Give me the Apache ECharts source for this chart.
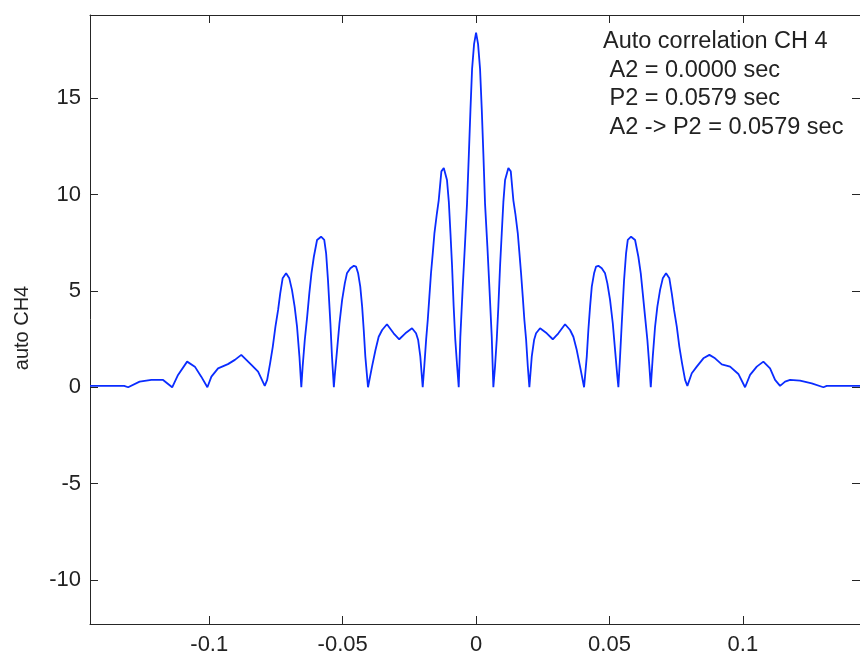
<!DOCTYPE html>
<html>
<head>
<meta charset="utf-8">
<script src="https://cdn.jsdelivr.net/npm/echarts@6/dist/echarts.min.js"></script>
<style>
html,body{margin:0;padding:0;background:#fff;}
#chart{width:860px;height:657px;}
</style>
</head>
<body>
<div id="chart"></div>
<script>
// lag (seconds)
const lagSec = [
  -0.1447, -0.1319, -0.1304, -0.1261, -0.1217, -0.1173, -0.1139, -0.1117, -0.1083, -0.1054,
  -0.1030, -0.1007, -0.0992, -0.0967, -0.0930, -0.0904, -0.0880, -0.0842, -0.0817, -0.0792,
  -0.0783, -0.0772, -0.0762, -0.0752, -0.0742, -0.0734, -0.0725, -0.0712, -0.0700, -0.0690,
  -0.0680, -0.0671, -0.0662, -0.0655, -0.0650, -0.0642, -0.0633, -0.0625, -0.0617, -0.0608,
  -0.0596, -0.0581, -0.0569, -0.0562, -0.0555, -0.0546, -0.0540, -0.0533, -0.0530, -0.0521,
  -0.0512, -0.0502, -0.0492, -0.0484, -0.0471, -0.0458, -0.0450, -0.0442, -0.0434, -0.0427,
  -0.0421, -0.0415, -0.0405, -0.0390, -0.0377, -0.0365, -0.0352, -0.0334, -0.0309, -0.0288,
  -0.0265, -0.0240, -0.0225, -0.0217, -0.0209, -0.0200, -0.0194, -0.0187, -0.0181, -0.0175,
  -0.0169, -0.0162, -0.0156, -0.0147, -0.0140, -0.0130, -0.0121, -0.0109, -0.0102, -0.0096,
  -0.0090, -0.0084, -0.0078, -0.0071, -0.0065, -0.0059, -0.0050, -0.0042, -0.0034, -0.0027,
  -0.0021, -0.0015, -0.00075, 0,
  0.00075, 0.0015, 0.00214, 0.00274, 0.00337, 0.00424, 0.00499, 0.00588, 0.00648, 0.00712,
  0.00776, 0.00836, 0.0090, 0.00963, 0.01023, 0.01087, 0.01211, 0.01301, 0.01398, 0.01473,
  0.01563, 0.01623, 0.01687, 0.0175, 0.0181, 0.01874, 0.01938, 0.01998, 0.02088, 0.02174,
  0.02249, 0.02399, 0.0265, 0.02875, 0.03085, 0.03336, 0.03523, 0.03647, 0.03774, 0.03898,
  0.04048, 0.04149, 0.04209, 0.04273, 0.04337, 0.04423, 0.04498, 0.04584, 0.04711, 0.04835,
  0.04921, 0.05022, 0.05124, 0.0521, 0.05296, 0.05334, 0.05397, 0.05461, 0.05547, 0.05622,
  0.05686, 0.0581, 0.0596, 0.06083, 0.06173, 0.06248, 0.06334, 0.06421, 0.06496, 0.06548,
  0.06623, 0.06709, 0.06795, 0.06897, 0.06998, 0.07121, 0.07245, 0.07335, 0.07421, 0.07523,
  0.0762, 0.07721, 0.07834, 0.0792, 0.08085, 0.08272, 0.0852, 0.08745, 0.08958, 0.09209,
  0.0952, 0.09831, 0.10082, 0.1027, 0.10521, 0.10768, 0.11019, 0.11207, 0.11394, 0.11582,
  0.11769, 0.12144, 0.12582, 0.13017, 0.13145, 0.1439
];
// auto CH4 values
const autoCH4 = [
  0.07, 0.07, 0, 0.29, 0.38, 0.38, 0, 0.64, 1.33, 1.07,
  0.55, 0, 0.55, 0.98, 1.2, 1.42, 1.68, 1.16, 0.81, 0.07,
  0.38, 1.24, 2.1, 3.14, 4.01, 4.87, 5.65, 5.91, 5.65, 5.05,
  4.18, 3.14, 1.59, 0, 1.07, 2.45, 3.66, 4.87, 5.91, 6.77,
  7.64, 7.81, 7.64, 6.95, 5.56, 3.32, 1.59, 0, 0.55, 1.93,
  3.32, 4.53, 5.39, 5.91, 6.17, 6.3, 6.26, 5.91, 5.22, 4.18,
  2.97, 1.59, 0, 1.07, 1.93, 2.62, 2.97, 3.27, 2.8, 2.49,
  2.8, 3.06, 2.8, 2.45, 1.6, 0, 1.1, 2.5, 3.5, 4.7,
  5.9, 7.0, 8.0, 9.0, 9.7, 11.2, 11.37, 10.75, 9.6, 8.0,
  6.3, 4.2, 2.5, 1.1, 0, 2.6, 5.2, 7.3, 9.5, 12.1,
  14.4, 16.5, 17.8, 18.4,
  17.8, 16.5, 14.4, 12.1, 9.5, 7.3, 5.2, 2.6, 0, 1.1,
  2.5, 4.2, 6.3, 8.0, 9.6, 10.75, 11.37, 11.2, 9.7, 9.0,
  8.0, 7.0, 5.9, 4.7, 3.5, 2.5, 1.1, 0, 1.6, 2.45,
  2.8, 3.06, 2.8, 2.49, 2.8, 3.27, 2.97, 2.62, 1.93, 1.07,
  0, 1.59, 2.97, 4.18, 5.22, 5.91, 6.26, 6.3, 6.17, 5.91,
  5.39, 4.53, 3.32, 1.93, 0.55, 0, 1.59, 3.32, 5.56, 6.95,
  7.64, 7.81, 7.64, 6.77, 5.91, 4.87, 3.66, 2.45, 1.07, 0,
  1.59, 3.14, 4.18, 5.05, 5.65, 5.91, 5.65, 4.87, 4.01, 3.14,
  2.1, 1.24, 0.38, 0.07, 0.73, 1.07, 1.5, 1.68, 1.5, 1.19,
  1.07, 0.69, 0, 0.64, 1.07, 1.33, 0.98, 0.38, 0.07, 0.29,
  0.38, 0.34, 0.2, 0, 0.07, 0.07
];
const xTicks = [-0.1, -0.05, 0, 0.05, 0.1];
const yTicks = [-10, -5, 0, 5, 10, 15];
const annotationLines = [
  'Auto correlation CH 4',
  ' A2 = 0.0000 sec',
  ' P2 = 0.0579 sec',
  ' A2 -> P2 = 0.0579 sec'
];
const yLabel = 'auto CH4';

const FONT = '"Liberation Sans", Arial, sans-serif';
const AX = '#262626';
const xMin = -0.1447, xMax = 0.1439, yMin = -12.28, yMax = 19.31;

const chart = echarts.init(document.getElementById('chart'), null, {renderer: 'canvas'});
const seriesData = lagSec.map((t, i) => [t, autoCH4[i]]);

function xAxisCfg(pos, labels) {
  return {
    type: 'value', position: pos, min: xMin, max: xMax,
    axisLine: {show: true, onZero: false, lineStyle: {color: AX, width: 1}},
    axisTick: {show: true, inside: true, length: 8, customValues: xTicks, lineStyle: {color: AX, width: 1}},
    axisLabel: {show: labels, customValues: xTicks, color: '#222', fontFamily: FONT, fontSize: 22, margin: 10,
      formatter: v => String(Math.round(v * 100) / 100)},
    splitLine: {show: false}
  };
}
function yAxisCfg(pos, labels) {
  return {
    type: 'value', position: pos, min: yMin, max: yMax,
    axisLine: {show: true, onZero: false, lineStyle: {color: AX, width: 1}},
    axisTick: {show: true, inside: true, length: 8, customValues: yTicks, lineStyle: {color: AX, width: 1}},
    axisLabel: {show: labels, customValues: yTicks, color: '#222', fontFamily: FONT, fontSize: 22, margin: 9},
    splitLine: {show: false}
  };
}

chart.setOption({
  animation: false,
  backgroundColor: '#fff',
  grid: {left: 90, right: 0, top: 15, bottom: 33, containLabel: false},
  xAxis: [xAxisCfg('bottom', true), xAxisCfg('top', false)],
  yAxis: [yAxisCfg('left', true), yAxisCfg('right', false)],
  series: [{
    type: 'line', xAxisIndex: 0, yAxisIndex: 0,
    data: seriesData, showSymbol: false, smooth: false,
    lineStyle: {color: '#0a2cff', width: 1.8}
  }],
  graphic: [
    {type: 'text', x: 22, y: 328, rotation: Math.PI / 2,
      style: {text: yLabel, font: '20px ' + FONT, fill: '#222', textAlign: 'center', textVerticalAlign: 'middle'}},
    ...annotationLines.map((s, i) => ({
      type: 'text', x: 603, y: 42 + i * 28.4,
      style: {text: s, font: '23.5px ' + FONT, fill: '#222', textAlign: 'left', textVerticalAlign: 'middle'}
    }))
  ]
});
</script>
</body>
</html>
